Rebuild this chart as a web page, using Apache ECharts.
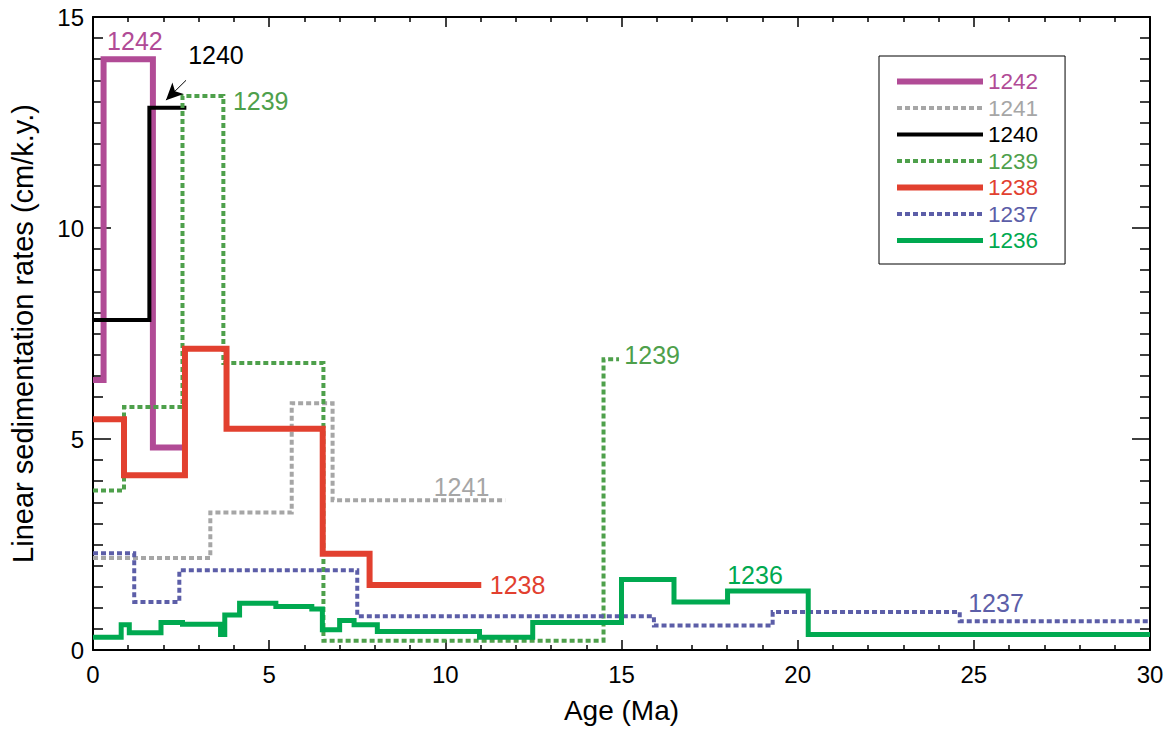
<!DOCTYPE html>
<html>
<head>
<meta charset="utf-8">
<script src="https://cdn.jsdelivr.net/npm/echarts@6/dist/echarts.min.js"></script>
<style>
  html, body { margin: 0; padding: 0; background: #fff; }
  #chart { width: 1172px; height: 736px; }
</style>
</head>
<body>
<div id="chart"></div>
<script>
// step boundaries (Ma) and rates (cm/k.y.)
var sites = ['1242', '1241', '1240', '1239', '1238', '1237', '1236'];
var edges1242 = [0, 0.3, 1.7, 2.55];
var rates1242 = [6.4, 14.0, 4.8];
var edges1241 = [0, 3.33, 5.64, 6.8, 11.7];
var rates1241 = [2.18, 3.26, 5.85, 3.55];
var edges1240 = [0, 1.6, 2.65];
var rates1240 = [7.82, 12.85];
var edges1239 = [0, 0.88, 2.54, 3.7, 6.54, 14.49, 14.93];
var rates1239 = [3.78, 5.76, 13.13, 6.8, 0.22, 6.89];
var edges1238 = [0, 0.88, 2.61, 3.79, 6.52, 7.85, 11.02];
var rates1238 = [5.47, 4.14, 7.14, 5.24, 2.28, 1.54];
var edges1237 = [0, 1.17, 2.45, 7.5, 15.92, 19.29, 24.6, 30];
var rates1237 = [2.29, 1.14, 1.89, 0.80, 0.58, 0.90, 0.68];
var edges1236 = [0, 0.8, 1.03, 1.93, 2.54, 3.62, 3.74, 4.16, 5.19, 6.21, 6.51, 7.0, 7.41, 8.07, 10.97, 12.48, 15.0, 16.49, 18.01, 20.3, 30];
var rates1236 = [0.30, 0.60, 0.41, 0.65, 0.61, 0.37, 0.83, 1.11, 1.03, 0.97, 0.48, 0.70, 0.60, 0.44, 0.30, 0.65, 1.67, 1.14, 1.40, 0.37];

// in-plot site labels (left edge age, rate at text middle)
var labelSites = ['1242', '1240', '1239', '1239', '1241', '1238', '1236', '1237'];
var labelAges = [0.40, 2.70, 3.97, 15.08, 9.67, 11.26, 18.0, 24.84];
var labelRates = [14.42, 14.1, 13.0, 6.99, 3.86, 1.54, 1.78, 1.11];

var siteColor = {
  '1242': '#b14b96', '1241': '#a6a6a6', '1240': '#000000', '1239': '#4ea04b',
  '1238': '#e2402f', '1237': '#5c5ea8', '1236': '#00a950'
};
var siteWidth = { '1242': 6, '1241': 4, '1240': 4, '1239': 4, '1238': 6, '1237': 4, '1236': 5 };
var siteDashed = { '1241': true, '1239': true, '1237': true };
var siteEdges = { '1242': edges1242, '1241': edges1241, '1240': edges1240, '1239': edges1239, '1238': edges1238, '1237': edges1237, '1236': edges1236 };
var siteRates = { '1242': rates1242, '1241': rates1241, '1240': rates1240, '1239': rates1239, '1238': rates1238, '1237': rates1237, '1236': rates1236 };

var font = '"Liberation Sans", Arial, Helvetica, sans-serif';

function stepPoints(edges, rates) {
  var pts = [];
  for (var i = 0; i < rates.length; i++) pts.push([edges[i], rates[i]]);
  pts.push([edges[edges.length - 1], rates[rates.length - 1]]);
  return pts;
}

function dash(s) { return siteDashed[s] ? [5, 3] : 'solid'; }

var series = sites.map(function(s) {
  var labels = [];
  labelSites.forEach(function(ls, i) {
    if (ls === s) labels.push({ coord: [labelAges[i], labelRates[i]], value: ls });
  });
  var ser = {
    name: s,
    type: 'line',
    step: 'end',
    symbol: 'none',
    data: stepPoints(siteEdges[s], siteRates[s]),
    lineStyle: { color: siteColor[s], width: siteWidth[s], type: dash(s), cap: 'butt', join: 'miter' },
    itemStyle: { color: siteColor[s] },
    markPoint: {
      symbol: 'rect',
      symbolSize: 0,
      silent: true,
      data: labels,
      label: {
        show: true,
        position: 'right',
        distance: 0,
        formatter: '{c}',
        color: siteColor[s],
        fontSize: 25,
        fontFamily: font
      }
    }
  };
  if (s === '1240') {
    ser.markLine = {
      silent: true,
      symbol: ['none', 'arrow'],
      symbolSize: [12, 17],
      label: { show: false },
      lineStyle: { color: '#000', width: 1, type: 'solid' },
      data: [[{ coord: [2.64, 13.5] }, { coord: [2.07, 13.03] }]]
    };
  }
  return ser;
});

// frame axes, ticks pointing into the plot
function axisStyle(extra, tickLen, minorLen) {
  var base = {
    type: 'value',
    axisLine: { onZero: false, lineStyle: { color: '#000', width: 2 } },
    axisTick: { inside: true, length: tickLen, lineStyle: { color: '#000', width: 1.5 } },
    minorTick: { show: true, splitNumber: extra.minorSplit, length: minorLen, lineStyle: { color: '#000', width: 1.5 } },
    splitLine: { show: false }
  };
  for (var k in extra) if (k !== 'minorSplit') base[k] = extra[k];
  return base;
}

var chart = echarts.init(document.getElementById('chart'), null, { renderer: 'svg' });
chart.setOption({
  animation: false,
  textStyle: { fontFamily: font },
  grid: { left: 92, right: 22, top: 17, bottom: 86 },
  legend: {
    orient: 'vertical',
    left: 879,
    top: 56,
    padding: [14, 27, 12, 15],
    borderColor: '#000',
    borderWidth: 1,
    itemWidth: 86,
    itemHeight: 14,
    itemGap: 3.5,
    itemStyle: { opacity: 0 },
    data: sites.map(function(s) {
      return {
        name: s,
        textStyle: { color: siteColor[s] },
        lineStyle: { color: siteColor[s], width: siteWidth[s], type: dash(s) }
      };
    }),
    textStyle: { fontSize: 22.5, lineHeight: 22, fontFamily: font }
  },
  xAxis: [
    axisStyle({
      min: 0, max: 30, interval: 5, minorSplit: 5,
      name: 'Age (Ma)', nameLocation: 'middle', nameGap: 46,
      nameTextStyle: { fontSize: 28, color: '#000', fontFamily: font },
      axisLabel: { fontSize: 24, color: '#000', margin: 12, fontFamily: font }
    }, 10, 5),
    axisStyle({
      min: 0, max: 30, interval: 5, minorSplit: 5, position: 'top',
      axisLabel: { show: false }
    }, 10, 5)
  ],
  yAxis: [
    axisStyle({
      min: 0, max: 15, interval: 5, minorSplit: 10,
      name: 'Linear sedimentation rates (cm/k.y.)', nameLocation: 'middle', nameGap: 56,
      nameTextStyle: { fontSize: 29, color: '#000', fontFamily: font },
      axisLabel: { fontSize: 24, color: '#000', margin: 9, fontFamily: font }
    }, 18, 10),
    axisStyle({
      min: 0, max: 15, interval: 5, minorSplit: 10, position: 'right',
      axisLabel: { show: false }
    }, 18, 10)
  ],
  series: series
});
window.addEventListener('resize', function() { chart.resize(); });
</script>
</body>
</html>
